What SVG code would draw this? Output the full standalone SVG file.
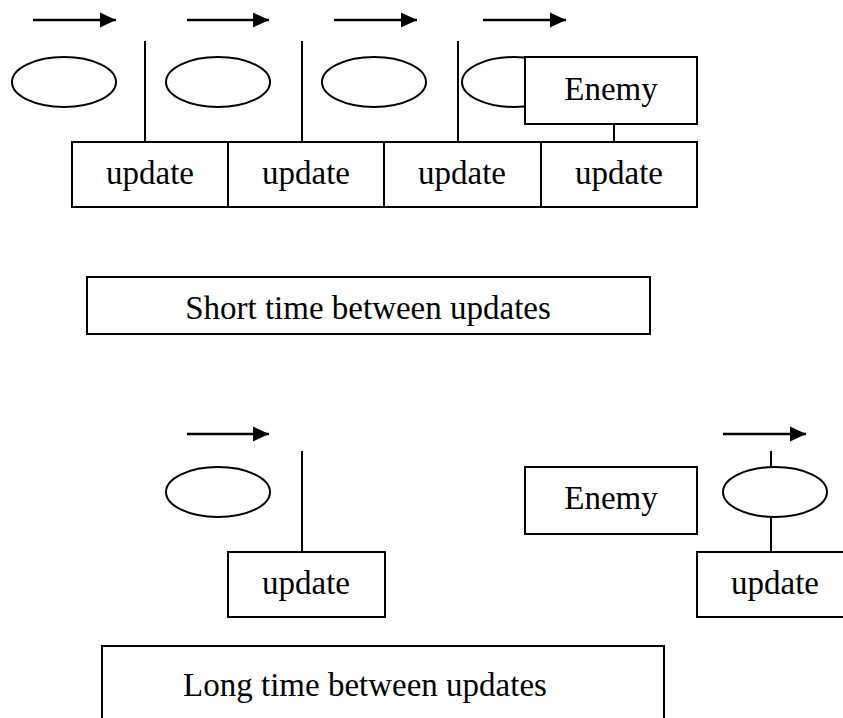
<svg xmlns="http://www.w3.org/2000/svg" width="843" height="718" viewBox="0 0 843 718">
  <style>
    .box { fill: #fff; stroke: #000; stroke-width: 2; }
    .obj { fill: #fff; stroke: #000; stroke-width: 2; }
    .wire { stroke: #000; stroke-width: 2; fill: none; }
    .move { stroke: #000; stroke-width: 2.5; fill: none; marker-end: url(#head); }
    text { font-family: "Liberation Serif", "Times New Roman", serif; font-size: 33px; fill: #000; text-anchor: middle; }
  </style>
  <defs>
    <marker id="head" markerUnits="userSpaceOnUse" markerWidth="18" markerHeight="18" viewBox="0 0 18 18" refX="17" refY="9" orient="auto">
      <path d="M1,1.5 L17,9 L1,16.5 Z" fill="#000"/>
    </marker>
  </defs>

  <rect width="843" height="718" fill="#fff"/>

  <!-- connectors: motion arrows and tick lines -->
  <g id="connectors">
    <line class="move" x1="33" y1="20" x2="116" y2="20"/>
    <line class="move" x1="187" y1="20" x2="269" y2="20"/>
    <line class="move" x1="334" y1="20" x2="417" y2="20"/>
    <line class="move" x1="483" y1="20" x2="566" y2="20"/>
    <line class="wire" x1="145" y1="41" x2="145" y2="142"/>
    <line class="wire" x1="302" y1="41" x2="302" y2="142"/>
    <line class="wire" x1="458" y1="41" x2="458" y2="142"/>
    <line class="wire" x1="614" y1="124" x2="614" y2="142"/>

    <line class="move" x1="187" y1="434" x2="269" y2="434"/>
    <line class="move" x1="723" y1="434" x2="806" y2="434"/>
    <line class="wire" x1="302" y1="451" x2="302" y2="552"/>
    <line class="wire" x1="771" y1="451" x2="771" y2="467"/>
    <line class="wire" x1="771" y1="517" x2="771" y2="552"/>
  </g>

  <!-- top sequence: objects -->
  <g id="obj1"><ellipse class="obj" cx="64" cy="82" rx="52" ry="25"/></g>
  <g id="obj2"><ellipse class="obj" cx="218" cy="82" rx="52" ry="25"/></g>
  <g id="obj3"><ellipse class="obj" cx="374" cy="82" rx="52" ry="25"/></g>
  <g id="obj4"><ellipse class="obj" cx="514" cy="82" rx="52" ry="25"/></g>
  <g id="enemy1">
    <rect class="box" x="525" y="57" width="172" height="67"/>
    <text x="611" y="100">Enemy</text>
  </g>

  <!-- top sequence: update frames -->
  <g id="update1">
    <rect class="box" x="72" y="142" width="156" height="65"/>
    <text x="150" y="184">update</text>
  </g>
  <g id="update2">
    <rect class="box" x="228" y="142" width="156" height="65"/>
    <text x="306" y="184">update</text>
  </g>
  <g id="update3">
    <rect class="box" x="384" y="142" width="157" height="65"/>
    <text x="462" y="184">update</text>
  </g>
  <g id="update4">
    <rect class="box" x="541" y="142" width="156" height="65"/>
    <text x="619" y="184">update</text>
  </g>

  <g id="caption-short">
    <rect class="box" x="87" y="277" width="563" height="57"/>
    <text x="368" y="319">Short time between updates</text>
  </g>

  <!-- bottom sequence -->
  <g id="obj5"><ellipse class="obj" cx="218" cy="492" rx="52" ry="25"/></g>
  <g id="update5">
    <rect class="box" x="228" y="552" width="157" height="65"/>
    <text x="306" y="594">update</text>
  </g>
  <g id="enemy2">
    <rect class="box" x="525" y="467" width="172" height="67"/>
    <text x="611" y="509">Enemy</text>
  </g>
  <g id="obj6"><ellipse class="obj" cx="775" cy="492" rx="52" ry="25"/></g>
  <g id="update6">
    <rect class="box" x="697" y="552" width="156" height="65"/>
    <text x="775" y="594">update</text>
  </g>

  <g id="caption-long">
    <rect class="box" x="102" y="646" width="562" height="90"/>
    <text x="365" y="696">Long time between updates</text>
  </g>
</svg>
